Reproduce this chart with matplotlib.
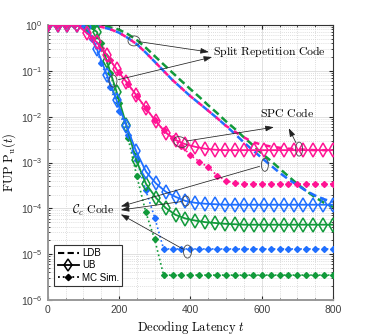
import numpy as np
import matplotlib
matplotlib.use("Agg")
import matplotlib.pyplot as plt
from matplotlib.lines import Line2D
from matplotlib.patches import Ellipse
from matplotlib.transforms import ScaledTranslation

# ---------------- data ----------------
# UB markers grid
t_ub = np.linspace(0, 800, 30)
ub_spc = [1, 1, 1, 1, 0.66, 0.417, 0.224, 0.107, 0.0575, 0.0295, 0.0151, 7.9e-3, 4.5e-3,
          3.1e-3, 2.5e-3, 2.2e-3, 2.0e-3, 1.9e-3] + [1.86e-3] * 12
ub_cc = [1, 1, 1, 1, 0.91, 0.30, 0.083, 0.023, 6.3e-3, 1.74e-3, 6.3e-4, 3.5e-4, 2.3e-4,
         1.78e-4, 1.45e-4, 1.32e-4, 1.26e-4, 1.23e-4] + [1.2e-4] * 12
ub_sr = [1, 1, 1, 1, 1, 0.71, 0.166, 0.035, 6.6e-3, 1.12e-3, 3.4e-4, 1.7e-4, 1.02e-4,
         7.2e-5, 6.0e-5, 5.4e-5, 5.0e-5, 4.8e-5, 4.6e-5, 4.5e-5] + [4.4e-5] * 10

# MC simulation grid
t_mc = np.arange(0, 801, 25)
mc_spc = [1] * 5 + [0.52, 0.32, 0.17, 0.093, 0.052, 0.028, 0.0155, 8.5e-3, 5.0e-3, 3.4e-3,
                    2.3e-3, 1.45e-3, 1.05e-3, 7.9e-4, 5.2e-4, 4.0e-4, 3.55e-4] + [3.4e-4] * 11
mc_cc = [1] * 5 + [0.5, 0.15, 0.045, 0.013, 4.0e-3, 1.12e-3, 2.5e-4, 6.3e-5] + [1.3e-5] * 20
mc_sr = [1] * 5 + [0.93, 0.4, 0.089, 0.02, 3.5e-3, 5.0e-4, 8.3e-5, 2.1e-5] + [3.5e-6] * 20

# LDB grid
t_ldb = np.arange(0, 801, 25)
ldb_sr = [1] * 5 + [0.99, 0.955, 0.89, 0.79, 0.63, 0.47, 0.32, 0.21, 0.138, 0.091, 0.060,
                    0.040, 0.027, 0.0178, 0.012, 7.9e-3, 5.4e-3, 3.55e-3, 2.4e-3, 1.58e-3,
                    1.1e-3, 7.4e-4, 5.0e-4, 3.4e-4, 2.4e-4, 1.74e-4, 1.32e-4, 1.07e-4]
ldb_cc = [1] * 5 + [0.977, 0.91, 0.81, 0.68, 0.52, 0.38, 0.25, 0.158, 0.1, 0.063, 0.042,
                    0.028, 0.0195, 0.0135, 9.3e-3, 6.3e-3, 4.2e-3, 2.75e-3, 1.86e-3, 1.26e-3,
                    8.7e-4, 6.0e-4, 4.3e-4, 3.2e-4, 2.4e-4, 1.9e-4, 1.58e-4, 1.38e-4]
ldb_spc = [1] * 5 + [0.977, 0.91, 0.81, 0.68, 0.52, 0.38, 0.25, 0.158, 0.1, 0.063, 0.042,
                     0.028, 0.0195, 0.0135, 9.3e-3, 6.3e-3, 4.7e-3, 3.55e-3, 2.8e-3, 2.45e-3,
                     2.24e-3, 2.1e-3, 2.0e-3, 1.95e-3, 1.9e-3, 1.86e-3, 1.86e-3, 1.86e-3]

x_ticks = [0, 200, 400, 600, 800]
legend_labels = ["LDB", "UB", "MC Sim."]

C_SPC = "#FF1493"
C_CC = "#1F6FFF"
C_SR = "#119A3A"

plt.rcParams['font.family'] = ['Liberation Sans', 'DejaVu Sans']
plt.rcParams['mathtext.fontset'] = 'dejavusans'

fig = plt.figure(figsize=(3.68, 3.36), dpi=100)
ax = fig.add_axes([0.1296, 0.1071, 0.7753, 0.8185])

lw_ldb = 1.8
# LDB
ax.plot(t_ldb, ldb_sr, color=C_SR, lw=lw_ldb, ls=(0, (3.0, 1.6)), zorder=3)
ax.plot(t_ldb, ldb_cc, color=C_CC, lw=lw_ldb, ls=(0, (3.0, 1.6)), zorder=3)
ax.plot(t_ldb, ldb_spc, color=C_SPC, lw=lw_ldb, ls=(2.3, (2.2, 2.4)), zorder=3.1)

# MC
for y, c in [(mc_sr, C_SR), (mc_cc, C_CC), (mc_spc, C_SPC)]:
    ax.plot(t_mc, y, color=c, lw=1.2, ls=':', marker='D', ms=3.0, mfc=c, mec=c, zorder=4)
# UB
for y, c in [(ub_sr, C_SR), (ub_cc, C_CC), (ub_spc, C_SPC)]:
    ax.plot(t_ub, y, color=c, lw=1.3, ls='-', marker='d', ms=6.8, mfc='none', mec=c,
            mew=1.1, zorder=5)

ax.set_yscale('log')
ax.set_xlim(0, 800)
ax.set_ylim(1e-6, 1)
ax.set_xticks(x_ticks)
ax.set_xticks(np.arange(0, 801, 50), minor=True)
ax.set_yticks([1e-6, 1e-5, 1e-4, 1e-3, 1e-2, 1e-1, 1])

ax.grid(True, which='major', color='#dcdcdc', lw=0.6, ls='-')
ax.grid(True, which='minor', color='#d4d4d4', lw=0.6, ls=(0, (1, 1.5)))
ax.set_axisbelow(True)
ax.tick_params(which='both', direction='in', top=True, right=True, colors='#262626',
               labelsize=7.5)
ax.tick_params(which='both', labelcolor='#404040')
ax.tick_params(which='major', length=3)
ax.tick_params(which='minor', length=1.5)
for s in ['top', 'right']:
    ax.spines[s].set_color('#333333')
    ax.spines[s].set_linewidth(0.8)
for s in ['left', 'bottom']:
    ax.spines[s].set_color('#999999')
    ax.spines[s].set_linewidth(1.4)

ax.set_xlabel(r'$\mathrm{Decoding\ Latency}\ t$', fontsize=9, math_fontfamily='cm',
              labelpad=3)
ax.set_ylabel(r'$\mathrm{FUP}\ \mathrm{P}_{\mathrm{u}}(t)$', fontsize=9, math_fontfamily='cm',
              labelpad=2)

# legend
handles = [Line2D([], [], color='k', lw=1.5, ls=(0, (3, 1.6))),
           Line2D([], [], color='k', lw=1.3, ls='-', marker='d', ms=6, mfc='none', mew=1.1),
           Line2D([], [], color='k', lw=1.3, ls=':', marker='D', ms=3.2)]
leg = ax.legend(handles, legend_labels, loc='lower left', bbox_to_anchor=(0.023, 0.05),
                borderaxespad=0, fontsize=7, handlelength=2.2, handletextpad=0.3,
                labelspacing=0.25, borderpad=0.35, fancybox=False, framealpha=1,
                edgecolor='#333333')
leg.get_frame().set_linewidth(0.8)
leg.set_zorder(10)

# ---------------- annotations ----------------
def ellipse(t, p, w, h, ang=0):
    tr = fig.dpi_scale_trans + ScaledTranslation(t, p, ax.transData)
    e = Ellipse((0, 0), w / 100, h / 100, angle=ang, transform=tr, fill=False,
                ec='#444444', lw=0.6, zorder=8)
    ax.add_artist(e)

def arrow(t0, p0, t1, p1, shrink=3.5):
    ax.annotate('', xy=(t1, p1), xytext=(t0, p0),
                arrowprops=dict(arrowstyle='-|>,head_length=0.5,head_width=0.17',
                                color='#222222', lw=0.55, shrinkA=shrink, shrinkB=0),
                zorder=9)

tkw = dict(fontsize=8.5, math_fontfamily='cm', ha='center', va='center', zorder=9)

# Split Repetition Code
ellipse(242, 0.45, 12, 10)
ellipse(183, 0.06, 8, 12)
arrow(242, 0.45, 452, 0.257, shrink=4)
arrow(183, 0.06, 461, 0.2, shrink=4)
ax.text(623, 0.27, r'$\mathrm{Split\ Repetition\ Code}$', **tkw)

# SPC Code
ellipse(372, 2.8e-3, 14, 10, -25)
ellipse(705, 1.96e-3, 7, 14)
arrow(372, 2.8e-3, 634, 5.9e-3, shrink=5)
arrow(705, 1.96e-3, 676, 5.6e-3, shrink=5)
ax.text(673, 0.012, r'$\mathrm{SPC\ Code}$', **tkw)

# C_c Code
ellipse(609, 8.9e-4, 7, 13)
ellipse(388, 1.45e-4, 7, 10)
ellipse(392, 1.14e-5, 8, 13)
arrow(609, 8.9e-4, 205, 1.1e-4, shrink=4)
arrow(388, 1.45e-4, 205, 9.2e-5, shrink=3.5)
arrow(392, 1.14e-5, 205, 7.4e-5, shrink=4)
ax.text(127, 8.9e-5, r'$\mathcal{C}_c\ \mathrm{Code}$', **tkw)

fig.savefig('out.png', dpi=100)
